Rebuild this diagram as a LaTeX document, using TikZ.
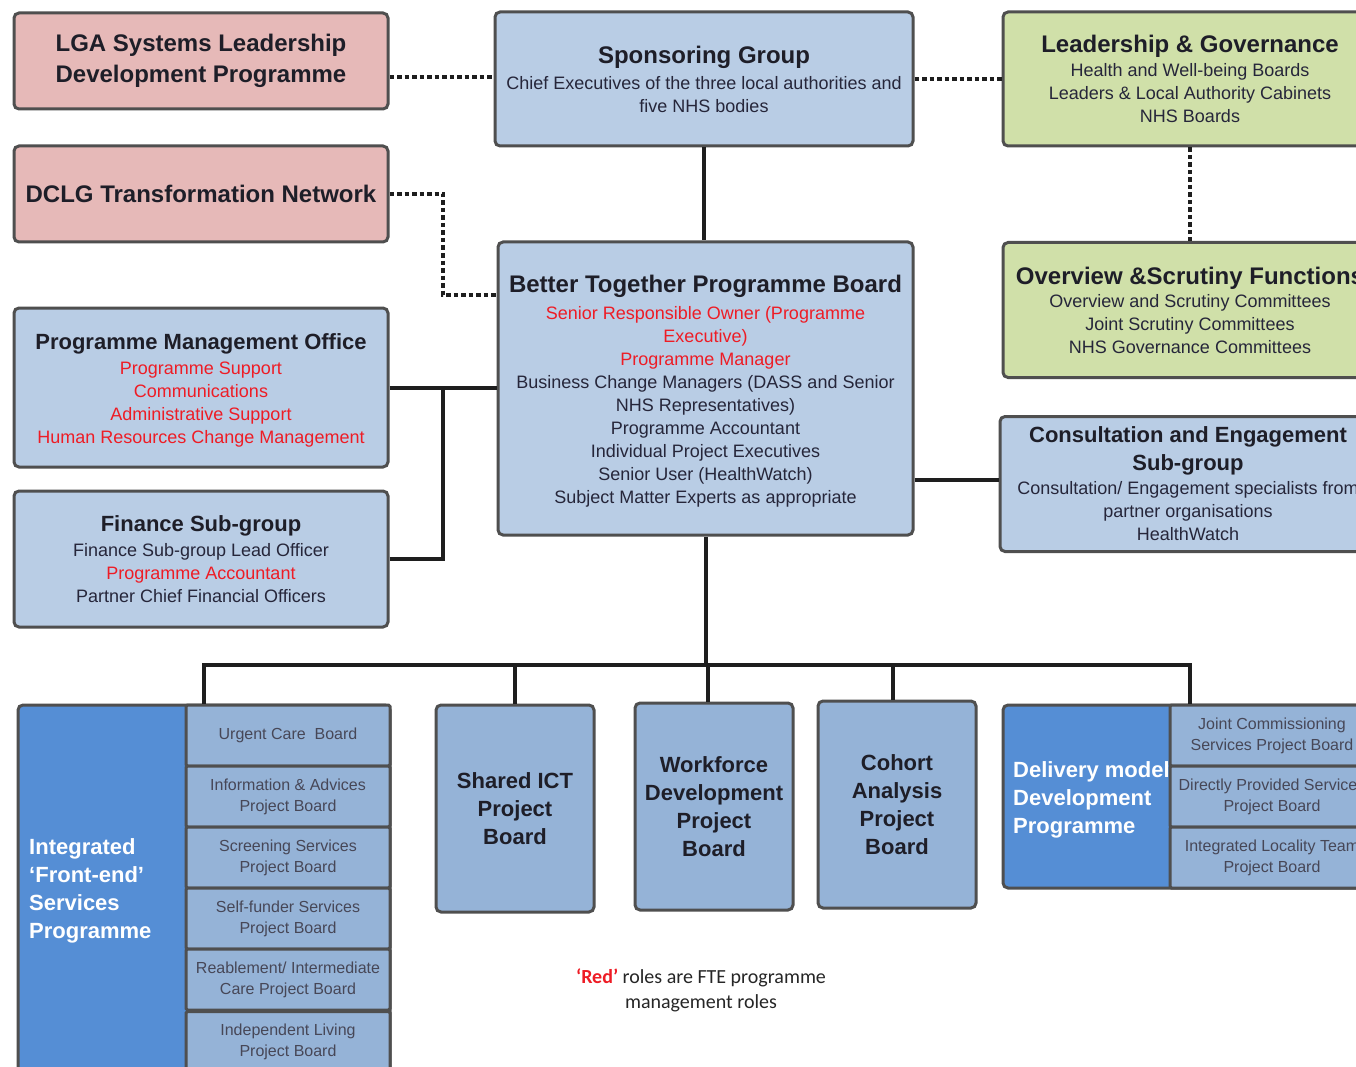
\documentclass[tikz,border=0pt]{standalone}
\usepackage{fontspec}
\setmainfont{Liberation Sans}
\newfontfamily\calib{Carlito}
\definecolor{pinkc}{HTML}{E6B9B8}
\definecolor{bluec}{HTML}{B9CDE5}
\definecolor{greenc}{HTML}{D0E0A9}
\definecolor{projc}{HTML}{95B3D7}
\definecolor{progc}{HTML}{558ED5}
\definecolor{bordc}{HTML}{4F4F4F}
\definecolor{linec}{HTML}{1E1E1E}
\definecolor{txtc}{HTML}{26263A}
\definecolor{ttlc}{HTML}{1E1E28}
\definecolor{myred}{HTML}{EE1C25}
\newcommand\Ttl{\fontsize{24}{27}\selectfont\bfseries\color{ttlc}}
\newcommand\Tts{\fontsize{22}{27}\selectfont\bfseries\color{ttlc}}
\newcommand\Bdy{\fontsize{18}{23}\selectfont}
\newcommand\Sbx{\fontsize{16}{21}\selectfont}
\newcommand\Prg{\fontsize{22}{28}\selectfont\bfseries}
\newcommand\Ftn{\calib\fontsize{20}{25}\selectfont}
\newcommand\Rd[1]{{\color{myred}#1}}
\begin{document}
\begin{tikzpicture}[x=1pt,y=-1pt,
  box/.style={draw=bordc, line width=3pt, rounded corners=5pt, inner sep=0pt, align=center, text=txtc, font=\Bdy},
  pinkbox/.style={box, fill=pinkc},
  bluebox/.style={box, fill=bluec},
  greenbox/.style={box, fill=greenc},
  projbox/.style={box, fill=projc, font=\Prg, text=ttlc},
  progbox/.style={box, fill=progc},
  subbox/.style={box, fill=projc, rounded corners=1.5pt, font=\Sbx, text=txtc!85!white},
  proglabel/.style={anchor=west, align=left, text=white, font=\Prg, inner sep=0pt},
  dotc/.style={draw=linec, line width=4.5pt, dash pattern=on 4.5pt off 3pt},
  conn/.style={draw=linec, line width=4pt},
]
\useasboundingbox (0,0) rectangle (1356,1067);
\clip (0,0) rectangle (1356,1067);
\fill[white] (0,0) rectangle (1356,1067);

% top row
\node[pinkbox, minimum width=374pt, minimum height=96pt, font=\fontsize{24}{31}\selectfont\bfseries, text=ttlc] (lga) at (201,61) {LGA Systems Leadership\\Development Programme};
\node[pinkbox, minimum width=374pt, minimum height=96pt, font=\fontsize{24}{31}\selectfont\bfseries, text=ttlc] (dclg) at (201,194) {DCLG Transformation Network};
\node[bluebox, minimum width=418pt, minimum height=134pt] (spons) at (704,79)
  {{\Ttl Sponsoring Group}\\[3pt]Chief Executives of the three local authorities and\\five NHS bodies};
\node[greenbox, minimum width=374pt, minimum height=134pt] (lg) at (1190,79)
  {{\Ttl Leadership \& Governance}\\[1pt]Health and Well-being Boards\\Leaders \& Local Authority Cabinets\\NHS Boards};
\node[greenbox, minimum width=374pt, minimum height=135pt] (os) at (1190,310)
  {{\Ttl Overview \&Scrutiny Functions}\\[0pt]Overview and Scrutiny Committees\\Joint Scrutiny Committees\\NHS Governance Committees};
\node[bluebox, minimum width=376pt, minimum height=135pt] (ce) at (1188,484)
  {{\Tts Consultation and Engagement}\\[5pt]{\Tts Sub-group}\\[1pt]Consultation/ Engagement specialists from\\partner organisations\\HealthWatch};

% programme board
\node[bluebox, minimum width=415pt, minimum height=293pt] (btpb) at (705.5,388.5) {};
\node[align=center, text=txtc, font=\Bdy, inner sep=0pt] (btpbt) at (705.5,391.5)
  {{\Ttl Better Together Programme Board}\\[4pt]
   \Rd{Senior Responsible Owner (Programme}\\
   \Rd{Executive)}\\
   \Rd{Programme Manager}\\
   Business Change Managers (DASS and Senior\\
   NHS Representatives)\\
   Programme Accountant\\
   Individual Project Executives\\
   Senior User (HealthWatch)\\
   Subject Matter Experts as appropriate};

\node[bluebox, minimum width=374pt, minimum height=159pt] (pmo) at (201,387.5) {};
\node[align=center, text=txtc, font=\Bdy, inner sep=0pt] (pmot) at (201,390)
  {{\Tts Programme Management Office}\\[2pt]
   \Rd{Programme Support}\\
   \Rd{Communications}\\
   \Rd{Administrative Support}\\
   \Rd{Human Resources Change Management}};
\node[bluebox, minimum width=374pt, minimum height=136pt] (fin) at (201,559)
  {{\Tts Finance Sub-group}\\[2pt]
   Finance Sub-group Lead Officer\\
   \Rd{Programme Accountant}\\
   Partner Chief Financial Officers};

% bottom: integrated front-end programme
\node[progbox, minimum width=372pt, minimum height=380pt] (intg) at (204,895) {};
\node[proglabel] (intgl) at (29,891) {Integrated\\‘Front-end’\\Services\\Programme};
\node[subbox, minimum width=204pt, minimum height=61pt] (uc) at (288,735.5) {Urgent Care~ Board};
\node[subbox, minimum width=204pt, minimum height=61pt] (ia) at (288,796.5) {Information \& Advices\\Project Board};
\node[subbox, minimum width=204pt, minimum height=61pt] (ss) at (288,857.5) {Screening Services\\Project Board};
\node[subbox, minimum width=204pt, minimum height=61pt] (sf) at (288,918.5) {Self-funder Services\\Project Board};
\node[subbox, minimum width=204pt, minimum height=61pt] (rb) at (288,979.5) {Reablement/ Intermediate\\Care Project Board};
\node[subbox, minimum width=204pt, minimum height=61pt, anchor=north] (il) at (288,1010) {Independent Living\\Project Board};

% project boards
\node[projbox, minimum width=158pt, minimum height=207pt] (ict) at (515,808.5) {Shared ICT\\Project\\Board};
\node[projbox, minimum width=158pt, minimum height=207pt] (wf) at (714,806.5) {Workforce\\Development\\Project\\Board};
\node[projbox, minimum width=158pt, minimum height=207pt] (coh) at (897,804.5) {Cohort\\Analysis\\Project\\Board};

% delivery model
\node[progbox, minimum width=372pt, minimum height=183pt] (dm) at (1189,796.5) {};
\node[proglabel] (dml) at (1013,800) {Delivery model\\Development\\Programme};
\node[subbox, minimum width=204pt, minimum height=61pt] (jc) at (1272,735.5) {Joint Commissioning\\Services Project Board};
\node[subbox, minimum width=204pt, minimum height=61pt] (dp) at (1272,796.5) {Directly Provided Services\\Project Board};
\node[subbox, minimum width=204pt, minimum height=61pt] (ilt) at (1272,857.5) {Integrated Locality Team\\Project Board};

% footnote
\node[font=\Ftn, align=center, text=black!85] (note) at (701,990)
  {{\bfseries\color{myred}‘Red’} roles are FTE programme\\management roles};

% dotted connectors
\draw[dotc] (lga.east |- 0,77) -- (spons.west |- 0,77);
\draw[dotc] (spons.east) -- (lg.west);
\coordinate (dj) at (443,295);
\draw[dotc] (dclg.east) -| (dj) -- (dj -| btpb.west);
\draw[dotc] (lg.south) -- (os.north);

% solid connectors
\draw[conn] (spons.south) -- (spons.south |- btpb.north);
\draw[conn] (pmo.east) -- (pmo.east -| btpb.west);
\coordinate (fj) at (pmo.east -| dj);
\draw[conn] (fin.east) -| (fj);
\draw[conn] (btpb.east |- 0,480) -- (ce.west |- 0,480);
\coordinate (bus) at (btpb.south |- 0,665);
\coordinate (busL) at (204,665);
\coordinate (busR) at (1190,665);
\draw[conn] (btpb.south) -- (bus);
\draw[conn] (busL |- intg.north) -- (busL) -- (busR) -- (busR |- dm.north);
\draw[conn] (bus -| ict.north) -- (ict.north);
\draw[conn] (bus -| 708,0) -- (708,0 |- wf.north);
\draw[conn] (bus -| 893,0) -- (893,0 |- coh.north);
\end{tikzpicture}
\end{document}
